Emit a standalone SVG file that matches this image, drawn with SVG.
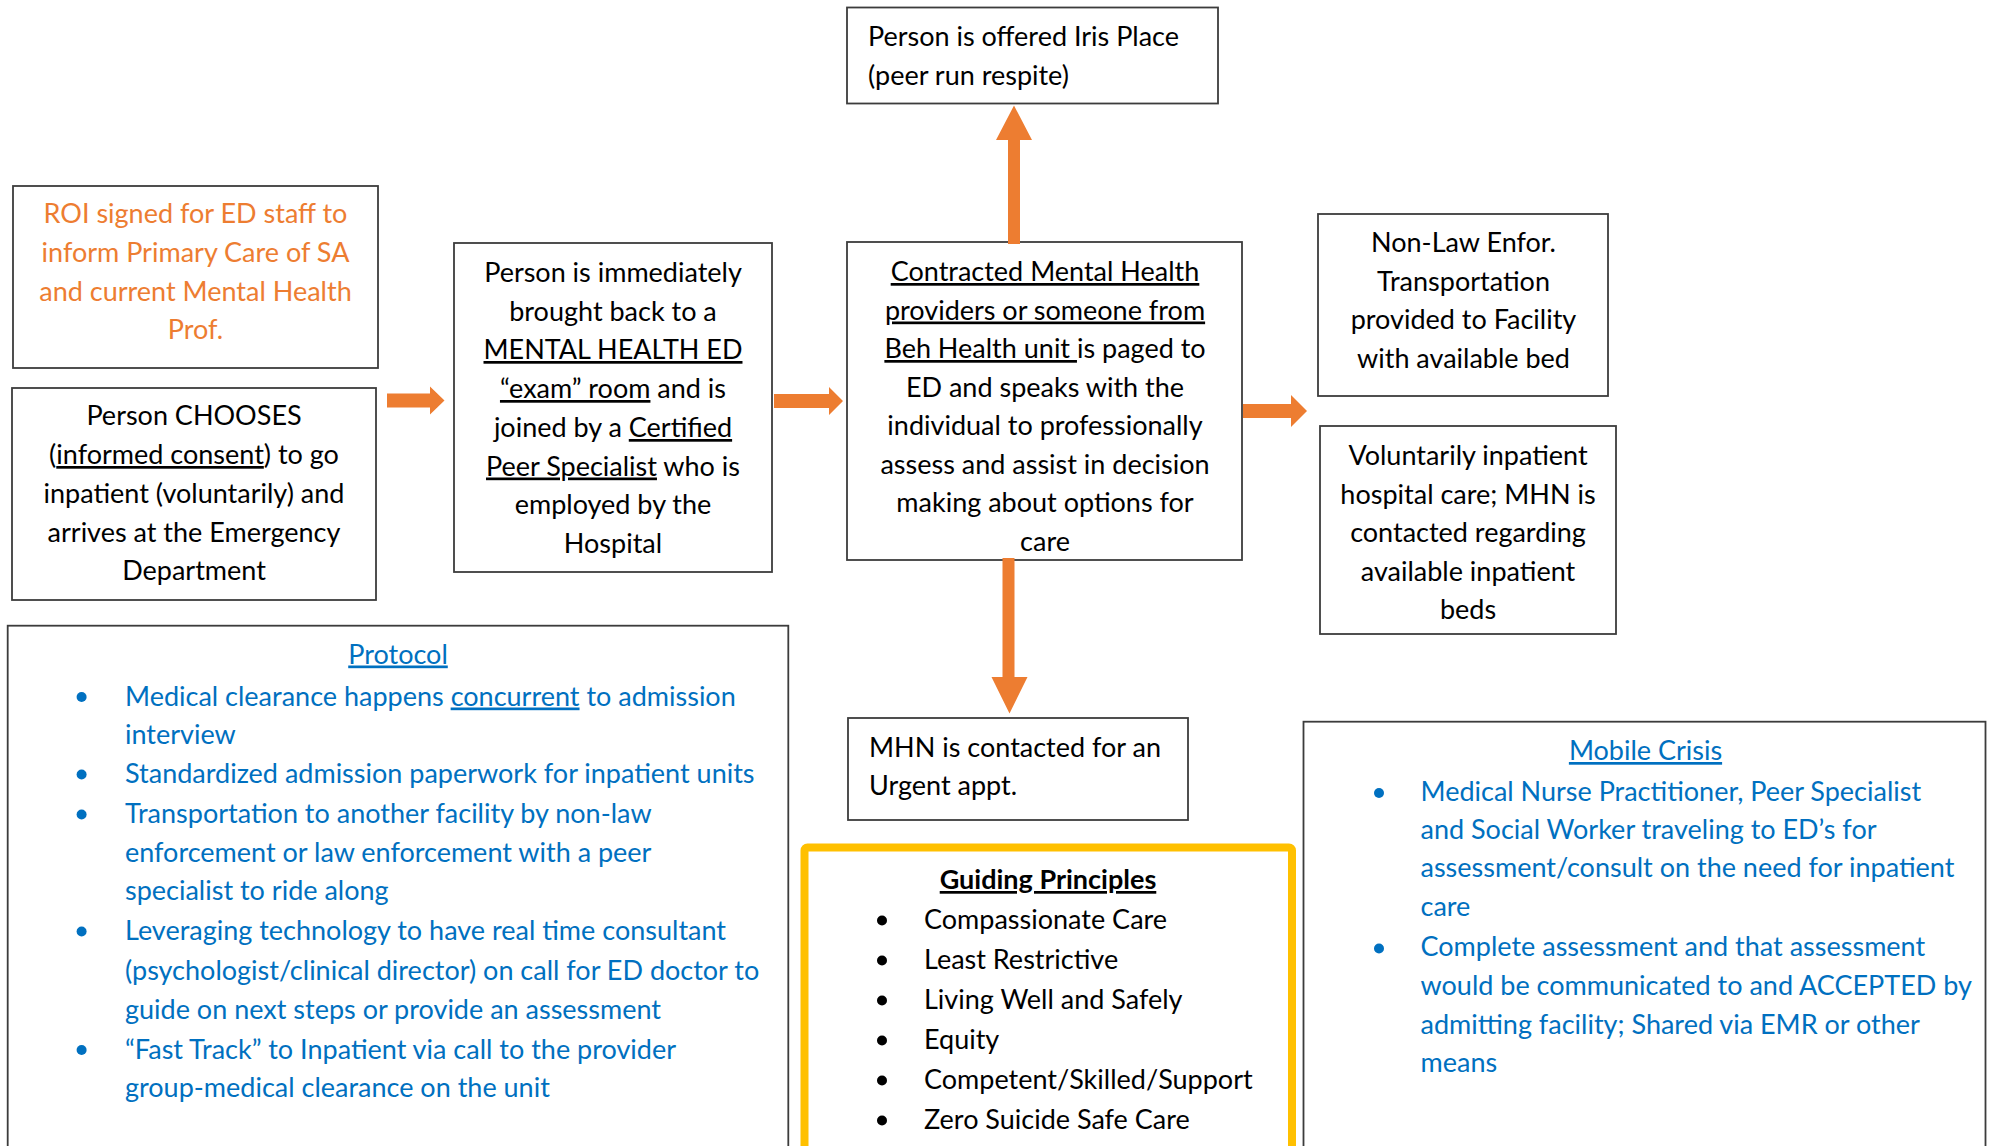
<svg xmlns="http://www.w3.org/2000/svg" width="1996" height="1146" viewBox="0 0 1996 1146">
<style>
text { font-family: Lato, "Liberation Sans", sans-serif; font-size: 27px; fill: #000; }
.c { text-anchor: middle; }
.org { fill: #ED7D31; }
.blu { fill: #0070C0; }
.u { text-decoration: underline; }
.b { font-weight: bold; }
.box { fill: #fff; stroke: #3c3c3c; stroke-width: 1.8; }
.arrow { fill: #ED7D31; }
.bk { fill: #000; }
.bb { fill: #0070C0; }
</style>
<rect width="1996" height="1146" fill="#fff"/>

<g id="roi">
<rect class="box" x="13" y="186" width="365" height="182"/>
<text class="c org" x="195.5" y="223">ROI signed for ED staff to</text>
<text class="c org" x="195.5" y="262">inform Primary Care of SA</text>
<text class="c org" x="195.5" y="300.5">and current Mental Health</text>
<text class="c org" x="195.5" y="339">Prof.</text>
</g>

<g id="chooses">
<rect class="box" x="12" y="388" width="364" height="212"/>
<text class="c" x="194" y="425">Person CHOOSES</text>
<text class="c" x="194" y="464">(<tspan class="u">informed consent</tspan>) to go</text>
<text class="c" x="194" y="503">inpatient (voluntarily) and</text>
<text class="c" x="194" y="541.5">arrives at the Emergency</text>
<text class="c" x="194" y="580">Department</text>
</g>

<g id="exam-room">
<rect class="box" x="454" y="243" width="318" height="329"/>
<text class="c" x="613" y="282">Person is immediately</text>
<text class="c" x="613" y="320.5">brought back to a</text>
<text class="c" x="613" y="359"><tspan class="u">MENTAL HEALTH ED</tspan></text>
<text class="c" x="613" y="398"><tspan class="u">“exam” room</tspan> and is</text>
<text class="c" x="613" y="437">joined by a <tspan class="u">Certified</tspan></text>
<text class="c" x="613" y="475.5"><tspan class="u">Peer Specialist</tspan> who is</text>
<text class="c" x="613" y="514">employed by the</text>
<text class="c" x="613" y="552.5">Hospital</text>
</g>

<g id="contracted">
<rect class="box" x="847" y="242" width="395" height="318"/>
<text class="c" x="1045" y="281"><tspan class="u">Contracted Mental Health</tspan></text>
<text class="c" x="1045" y="319.5"><tspan class="u">providers or someone from</tspan></text>
<text class="c" x="1045" y="358"><tspan class="u">Beh Health unit </tspan>is paged to</text>
<text class="c" x="1045" y="396.5">ED and speaks with the</text>
<text class="c" x="1045" y="435">individual to professionally</text>
<text class="c" x="1045" y="473.5">assess and assist in decision</text>
<text class="c" x="1045" y="512">making about options for</text>
<text class="c" x="1045" y="550.5">care</text>
</g>

<g id="iris">
<rect class="box" x="847" y="7.5" width="371" height="96"/>
<text x="868" y="46">Person is offered Iris Place</text>
<text x="868" y="85">(peer run respite)</text>
</g>

<g id="transport">
<rect class="box" x="1318" y="214" width="290" height="182"/>
<text class="c" x="1463.5" y="252">Non-Law Enfor.</text>
<text class="c" x="1463.5" y="290.5">Transportation</text>
<text class="c" x="1463.5" y="329">provided to Facility</text>
<text class="c" x="1463.5" y="367.5">with available bed</text>
</g>

<g id="voluntary">
<rect class="box" x="1320" y="426" width="296" height="208"/>
<text class="c" x="1468" y="465">Voluntarily inpatient</text>
<text class="c" x="1468" y="503.5">hospital care; MHN is</text>
<text class="c" x="1468" y="542">contacted regarding</text>
<text class="c" x="1468" y="580.5">available inpatient</text>
<text class="c" x="1468" y="619">beds</text>
</g>

<g id="mhn">
<rect class="box" x="848" y="718" width="340" height="102"/>
<text x="869" y="756.5">MHN is contacted for an</text>
<text x="869" y="795">Urgent appt.</text>
</g>

<g id="protocol">
<rect class="box" x="7.7" y="625.7" width="780.6" height="600"/>
<text class="c blu" x="398" y="663.5"><tspan class="u">Protocol</tspan></text>
<circle class="bb" cx="81.6" cy="697" r="5"/>
<circle class="bb" cx="81.6" cy="774.5" r="5"/>
<circle class="bb" cx="81.6" cy="814.5" r="5"/>
<circle class="bb" cx="81.6" cy="931.5" r="5"/>
<circle class="bb" cx="81.6" cy="1050" r="5"/>
<text class="blu" x="125" y="705.5">Medical clearance happens <tspan class="u">concurrent</tspan> to admission</text>
<text class="blu" x="125" y="743.5">interview</text>
<text class="blu" x="125" y="783">Standardized admission paperwork for inpatient units</text>
<text class="blu" x="125" y="823">Transportation to another facility by non-law</text>
<text class="blu" x="125" y="861.5">enforcement or law enforcement with a peer</text>
<text class="blu" x="125" y="900">specialist to ride along</text>
<text class="blu" x="125" y="940">Leveraging technology to have real time consultant</text>
<text class="blu" x="125" y="979.5">(psychologist/clinical director) on call for ED doctor to</text>
<text class="blu" x="125" y="1018.5">guide on next steps or provide an assessment</text>
<text class="blu" x="125" y="1058.5">“Fast Track” to Inpatient via call to the provider</text>
<text class="blu" x="125" y="1096.5">group-medical clearance on the unit</text>
</g>

<g id="guiding-principles">
<rect x="804.5" y="847.5" width="487.5" height="400" rx="3" fill="#fff" stroke="#FFC000" stroke-width="8"/>
<text class="c b" x="1048" y="889"><tspan class="u">Guiding Principles</tspan></text>
<circle class="bk" cx="882" cy="920.5" r="5"/>
<circle class="bk" cx="882" cy="960.5" r="5"/>
<circle class="bk" cx="882" cy="1000.5" r="5"/>
<circle class="bk" cx="882" cy="1040.5" r="5"/>
<circle class="bk" cx="882" cy="1080.5" r="5"/>
<circle class="bk" cx="882" cy="1120.5" r="5"/>
<text x="924" y="929">Compassionate Care</text>
<text x="924" y="969">Least Restrictive</text>
<text x="924" y="1009">Living Well and Safely</text>
<text x="924" y="1049">Equity</text>
<text x="924" y="1089">Competent/Skilled/Support</text>
<text x="924" y="1129">Zero Suicide Safe Care</text>
</g>

<g id="mobile-crisis">
<rect class="box" x="1303.5" y="721.7" width="682" height="500"/>
<text class="c blu" x="1645.5" y="760"><tspan class="u">Mobile Crisis</tspan></text>
<circle class="bb" cx="1379" cy="793" r="5"/>
<circle class="bb" cx="1379" cy="948.5" r="5"/>
<text class="blu" x="1420.5" y="800.5">Medical Nurse Practitioner, Peer Specialist</text>
<text class="blu" x="1420.5" y="838.5">and Social Worker traveling to ED’s for</text>
<text class="blu" x="1420.5" y="877">assessment/consult on the need for inpatient</text>
<text class="blu" x="1420.5" y="916">care</text>
<text class="blu" x="1420.5" y="956">Complete assessment and that assessment</text>
<text class="blu" x="1420.5" y="994.5">would be communicated to and ACCEPTED by</text>
<text class="blu" x="1420.5" y="1033.5">admitting facility; Shared via EMR or other</text>
<text class="blu" x="1420.5" y="1072">means</text>
</g>

<g id="connectors">
<polygon class="arrow" points="387,393.5 430,393.5 430,386.5 444.5,400.5 430,414.5 430,407.5 387,407.5"/>
<polygon class="arrow" points="774,394 829,394 829,387 843,401 829,415 829,408 774,408"/>
<polygon class="arrow" points="1243,404 1291,404 1291,395 1307,411 1291,427 1291,418 1243,418"/>
<polygon class="arrow" points="1008,244 1008,140 996,140 1014,105.5 1032,140 1020,140 1020,244"/>
<polygon class="arrow" points="1002.5,558 1014.5,558 1014.5,677 1027.5,677 1009.5,713.5 991.5,677 1002.5,677"/>
</g>
</svg>
